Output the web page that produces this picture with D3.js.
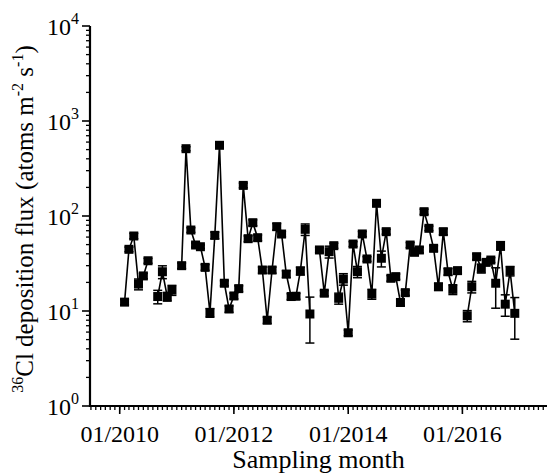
<!DOCTYPE html>
<html>
<head>
<meta charset="utf-8">
<script src="https://cdnjs.cloudflare.com/ajax/libs/d3/7.8.5/d3.min.js"></script>
<style>
  body { margin: 0; background: #fff; }
  svg text { font-family: "Liberation Serif", "Times New Roman", serif; fill: #000; }
</style>
</head>
<body>
<svg id="chart" width="547" height="473"></svg>
<script>
// monthly 36Cl flux, one array per year (null = no sample)
const flux2010 = [12.4, 44.6, 61.6, 19.2, 23.4, 33.8, null, 14.2, 25.9, 14.2, 16.6, null];
const flux2011 = [30, 511, 71.2, 49.5, 47.5, 28.8, 9.6, 62.6, 555, 19.6, 10.5, 14.4];
const flux2012 = [17.2, 210, 57.7, 85, 59.1, 27, 8.0, 27, 77.2, 64.6, 24.5, 14.2];
const flux2013 = [14.3, 26.4, 72.4, 9.3, null, 43.9, 15.4, 42.1, 48.7, 13.6, 21.7, 5.9];
const flux2014 = [50.7, 25.9, 64.7, 35.3, 15.1, 136, 35.9, 68.4, 22.1, 23, 12.3, 15.6];
const flux2015 = [49.5, 41.5, 43.9, 111, 74.2, 45.7, 18, 68.4, 25.9, 16.9, 26.6, null];
const flux2016 = [8.9, 18, 37.3, 28.1, 32.5, 34.4, 19.6, 48.7, 11.8, 26.4, 9.45, null];

const err2010 = [0.8, 2.5, 4, 2.5, 1.5, 2, null, 2.3, 4, 1.5, 2, null];
const err2011 = [2, 25, 4, 2.5, 2, 2, 1, 5, 30, 1.2, 0.8, 1];
const err2012 = [1.2, 12, 4, 6, 4, 2, 0.6, 2, 6, 4, 2, 1];
const err2013 = [1, 2.5, 10, 4.7, null, 2.5, 1, 6, 3, 1.8, 3, 0.4];
const err2014 = [3, 3.5, 4, 2, 1.8, 8, 6.8, 4, 1.5, 1.5, 1, 1];
const err2015 = [3, 3, 3, 7, 4, 3, 1.5, 5, 2, 2, 2, null];
const err2016 = [1.2, 2.5, 2.5, 3, 2, 2, 8.9, 5, 3, 3, 4.4, null];

const years = [2010, 2011, 2012, 2013, 2014, 2015, 2016];
const fluxByYear = [flux2010, flux2011, flux2012, flux2013, flux2014, flux2015, flux2016];
const errByYear = [err2010, err2011, err2012, err2013, err2014, err2015, err2016];

const xTickDates = ['2010-01', '2012-01', '2014-01', '2016-01'];
const yTickExps = [0, 1, 2, 3, 4];

const data = [];
years.forEach((yr, i) => {
  fluxByYear[i].forEach((v, m) => {
    // samples are monthly totals, plotted at the end of the month
    data.push({ date: new Date(yr, m + 1, 1), value: v, err: errByYear[i][m] });
  });
});

const svg = d3.select('#chart');
const plotLeft = 90, plotRight = 547, plotTop = 26, plotBottom = 406;

const x = d3.scaleTime()
  .domain([new Date(2009, 5, 25), new Date(2017, 5, 25)])
  .range([plotLeft, plotRight]);
const y = d3.scaleLog().domain([1, 10000]).range([plotBottom, plotTop]);

// x axis: minor ticks every month, major every 2 years
const g = svg.append('g');
const monthTicks = d3.timeMonth.range(new Date(2009, 6, 1), new Date(2017, 6, 1));
g.selectAll('line.xminor').data(monthTicks).join('line')
  .attr('x1', d => x(d)).attr('x2', d => x(d))
  .attr('y1', plotBottom).attr('y2', plotBottom + 4)
  .attr('stroke', '#000').attr('stroke-width', 1.3);
const parse = d3.timeParse('%Y-%m');
g.selectAll('line.xmajor').data(xTickDates).join('line')
  .attr('x1', d => x(parse(d))).attr('x2', d => x(parse(d)))
  .attr('y1', plotBottom).attr('y2', plotBottom + 8)
  .attr('stroke', '#000').attr('stroke-width', 1.6);
g.selectAll('text.xlab').data(xTickDates).join('text')
  .attr('x', d => x(parse(d))).attr('y', plotBottom + 36)
  .attr('text-anchor', 'middle').attr('font-size', 24)
  .text(d => d3.timeFormat('%m/%Y')(parse(d)));

// y axis: log decades with minor ticks
const minor = [];
for (let e = 0; e < 4; e++) for (let k = 2; k <= 9; k++) minor.push(k * Math.pow(10, e));
g.selectAll('line.yminor').data(minor).join('line')
  .attr('x1', plotLeft - 4).attr('x2', plotLeft)
  .attr('y1', d => y(d)).attr('y2', d => y(d))
  .attr('stroke', '#000').attr('stroke-width', 1.3);
g.selectAll('line.ymajor').data(yTickExps).join('line')
  .attr('x1', plotLeft - 8).attr('x2', plotLeft)
  .attr('y1', d => y(Math.pow(10, d))).attr('y2', d => y(Math.pow(10, d)))
  .attr('stroke', '#000').attr('stroke-width', 1.6);
const ylab = g.selectAll('text.ylab').data(yTickExps).join('text')
  .attr('x', 79).attr('y', d => y(Math.pow(10, d)) + 9)
  .attr('text-anchor', 'end').attr('font-size', 24);
ylab.append('tspan').text('10');
ylab.append('tspan').attr('dy', -11).attr('font-size', 16).text(d => d);

// axis lines
g.append('line').attr('x1', plotLeft).attr('x2', plotLeft).attr('y1', plotTop).attr('y2', plotBottom + 1)
  .attr('stroke', '#000').attr('stroke-width', 2.2);
g.append('line').attr('x1', plotLeft - 1).attr('x2', plotRight).attr('y1', plotBottom).attr('y2', plotBottom)
  .attr('stroke', '#000').attr('stroke-width', 2.2);

// titles
svg.append('text').attr('x', (plotLeft + plotRight) / 2).attr('y', 468)
  .attr('text-anchor', 'middle').attr('font-size', 26).text('Sampling month');

const yt = svg.append('text')
  .attr('transform', `translate(33,${(plotTop + plotBottom) / 2 + 3}) rotate(-90)`)
  .attr('text-anchor', 'middle').attr('font-size', 25);
yt.append('tspan').attr('font-size', 16).attr('dy', -10).text('36');
yt.append('tspan').attr('dy', 10).text('Cl deposition flux (atoms m');
yt.append('tspan').attr('font-size', 16).attr('dy', -10).text('-2');
yt.append('tspan').attr('dy', 10).text(' s');
yt.append('tspan').attr('font-size', 16).attr('dy', -10).text('-1');
yt.append('tspan').attr('dy', 10).text(')');

// data line
const line = d3.line()
  .defined(d => d.value != null)
  .x(d => x(d.date)).y(d => y(d.value));
svg.append('path').datum(data)
  .attr('d', line).attr('fill', 'none')
  .attr('stroke', '#000').attr('stroke-width', 1.6);

const pts = data.filter(d => d.value != null);

// error bars
const eb = svg.append('g').attr('stroke', '#000').attr('stroke-width', 1.5);
eb.selectAll('line.v').data(pts).join('line')
  .attr('x1', d => x(d.date)).attr('x2', d => x(d.date))
  .attr('y1', d => y(d.value + d.err)).attr('y2', d => y(Math.max(d.value - d.err, 1.01)));
eb.selectAll('line.t').data(pts).join('line')
  .attr('x1', d => x(d.date) - 4.5).attr('x2', d => x(d.date) + 4.5)
  .attr('y1', d => y(d.value + d.err)).attr('y2', d => y(d.value + d.err));
eb.selectAll('line.b').data(pts).join('line')
  .attr('x1', d => x(d.date) - 4.5).attr('x2', d => x(d.date) + 4.5)
  .attr('y1', d => y(d.value - d.err)).attr('y2', d => y(d.value - d.err));

// square markers
svg.append('g').selectAll('rect').data(pts).join('rect')
  .attr('x', d => x(d.date) - 4.5).attr('y', d => y(d.value) - 4.5)
  .attr('width', 9).attr('height', 9).attr('fill', '#000');
</script>
</body>
</html>
